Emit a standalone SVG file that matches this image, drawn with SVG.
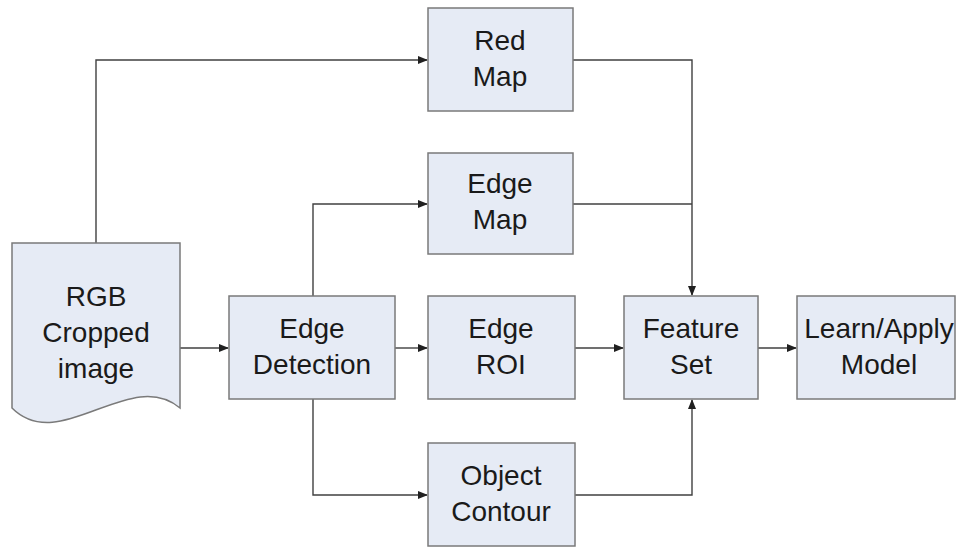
<svg xmlns="http://www.w3.org/2000/svg" width="960" height="547" viewBox="0 0 960 547">
<style>
.box{fill:#e6ebf5;stroke:#7a7a7a;stroke-width:1.5}
.t{font-family:"Liberation Sans",Arial,sans-serif;font-size:28px;fill:#1a1a1a;text-anchor:middle}
.c{fill:none;stroke:#404040;stroke-width:1.4}
</style>
<defs>
<marker id="ah" markerWidth="10" markerHeight="8" refX="9" refY="4" orient="auto" markerUnits="userSpaceOnUse">
<path d="M0,0 L10,4 L0,8 Z" fill="#202020"/>
</marker>
</defs>
<rect width="960" height="547" fill="#ffffff"/>
<g id="connectors">
<path class="c" d="M96,243 V60 H427" marker-end="url(#ah)"/>
<path class="c" d="M180,348 H228" marker-end="url(#ah)"/>
<path class="c" d="M313,296 V204 H427" marker-end="url(#ah)"/>
<path class="c" d="M395,348 H427" marker-end="url(#ah)"/>
<path class="c" d="M313,399 V495 H427" marker-end="url(#ah)"/>
<path class="c" d="M573,60 H692 V295" marker-end="url(#ah)"/>
<path class="c" d="M573,204 H692"/>
<path class="c" d="M575,348 H623" marker-end="url(#ah)"/>
<path class="c" d="M575,495 H692 V400" marker-end="url(#ah)"/>
<path class="c" d="M758,348 H796" marker-end="url(#ah)"/>
</g>
<g id="rgb">
<path class="box" d="M12,243 H180 V408 C130,366 60,456 12,408 Z"/>
<text class="t" x="96" y="306">RGB</text>
<text class="t" x="96" y="342">Cropped</text>
<text class="t" x="96" y="378">image</text>
</g>
<g id="redmap">
<rect class="box" x="428" y="8" width="145" height="103"/>
<text class="t" x="500" y="50">Red</text>
<text class="t" x="500" y="86">Map</text>
</g>
<g id="edgemap">
<rect class="box" x="428" y="153" width="145" height="101"/>
<text class="t" x="500" y="193">Edge</text>
<text class="t" x="500" y="229">Map</text>
</g>
<g id="edgedetection">
<rect class="box" x="229" y="296" width="166" height="103"/>
<text class="t" x="312" y="338">Edge</text>
<text class="t" x="312" y="374">Detection</text>
</g>
<g id="edgeroi">
<rect class="box" x="428" y="296" width="147" height="103"/>
<text class="t" x="501" y="338">Edge</text>
<text class="t" x="501" y="374">ROI</text>
</g>
<g id="objectcontour">
<rect class="box" x="428" y="443" width="147" height="103"/>
<text class="t" x="501" y="485">Object</text>
<text class="t" x="501" y="521">Contour</text>
</g>
<g id="featureset">
<rect class="box" x="624" y="296" width="134" height="103"/>
<text class="t" x="691" y="338">Feature</text>
<text class="t" x="691" y="374">Set</text>
</g>
<g id="learnapply">
<rect class="box" x="797" y="296" width="158" height="103"/>
<text class="t" x="879" y="338">Learn/Apply</text>
<text class="t" x="879" y="374">Model</text>
</g>
</svg>
